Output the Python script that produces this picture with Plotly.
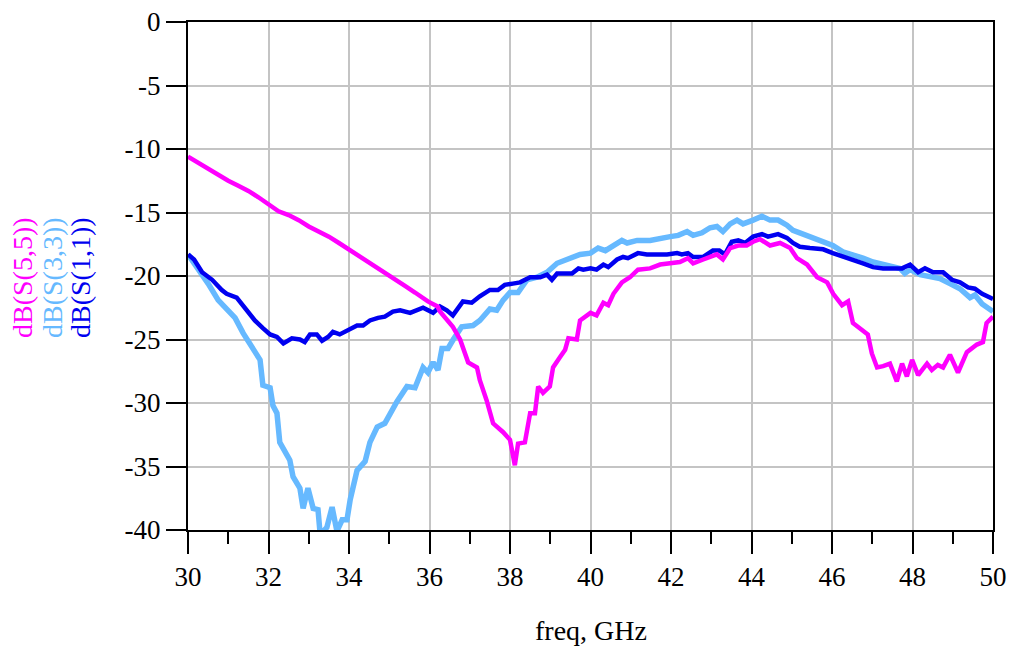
import plotly.graph_objects as go

# ---- data ----
f55 = [30.0, 30.25, 30.5, 30.75, 31.0, 31.25, 31.5, 31.75, 32.0, 32.25, 32.5, 32.75, 33.0, 33.25, 33.5, 33.75,
       34.0, 34.25, 34.5, 34.75, 35.0, 35.14, 35.4, 35.64, 35.96, 36.2, 36.26, 36.58, 36.76, 36.96, 37.18, 37.25,
       37.42, 37.58, 37.83, 38.0, 38.12, 38.2, 38.37, 38.5, 38.62, 38.7, 38.82, 38.99, 39.07, 39.24, 39.37, 39.45,
       39.66, 39.74, 39.91, 40.0, 40.15, 40.32, 40.44, 40.57, 40.78, 40.98, 41.18, 41.48, 41.73, 42.02, 42.22,
       42.42, 42.55, 42.8, 43.14, 43.29, 43.47, 43.67, 43.88, 44.04, 44.21, 44.46, 44.71, 44.96, 45.13, 45.38,
       45.63, 45.88, 46.03, 46.25, 46.4, 46.52, 46.7, 46.89, 46.99, 47.12, 47.27, 47.44, 47.61, 47.74, 47.86,
       47.99, 48.14, 48.36, 48.48, 48.63, 48.76, 48.93, 49.13, 49.35, 49.6, 49.75, 49.84, 50.0]
s55 = [-10.6, -11.1, -11.6, -12.1, -12.5, -12.9, -13.3, -13.8, -14.3, -14.9, -15.2, -15.6, -16.1, -16.5, -16.9, -17.4,
       -17.9, -18.5, -19.0, -19.4, -19.9, -20.2, -20.8, -21.3, -22.0, -22.4, -22.8, -24.0, -25.0, -26.8, -27.2, -28.2,
       -29.8, -31.6, -32.3, -32.9, -34.9, -33.2, -33.1, -30.8, -30.8, -28.7, -29.2, -28.7, -27.2, -26.4, -25.8, -24.9,
       -25.0, -23.5, -23.1, -22.9, -23.1, -22.1, -22.3, -21.4, -20.5, -20.1, -19.5, -19.4, -19.1, -19.0, -18.9,
       -18.6, -19.0, -18.7, -18.3, -18.7, -17.8, -17.6, -17.6, -17.3, -17.1, -17.6, -17.4, -17.8, -18.6, -19.1,
       -20.1, -20.5, -21.4, -22.3, -22.0, -23.7, -24.1, -24.6, -26.1, -27.2, -27.1, -26.9, -28.3, -26.9, -27.9,
       -26.6, -27.8, -26.9, -27.4, -27.0, -27.2, -26.2, -27.6, -26.0, -25.4, -25.2, -23.7, -23.2]

f33 = [30.0, 30.25, 30.5, 30.75, 30.92, 31.17, 31.37, 31.59, 31.79, 31.86, 32.04, 32.11, 32.21, 32.28, 32.41, 32.53,
       32.61, 32.78, 32.86, 32.98, 33.11, 33.23, 33.28, 33.36, 33.45, 33.58, 33.7, 33.83, 33.95, 34.03, 34.2, 34.4,
       34.52, 34.7, 34.89, 35.02, 35.19, 35.44, 35.64, 35.84, 35.96, 36.09, 36.21, 36.31, 36.46, 36.59, 36.8, 37.08,
       37.25, 37.5, 37.67, 37.83, 38.0, 38.2, 38.42, 38.67, 38.92, 39.17, 39.41, 39.74, 40.0, 40.19, 40.37, 40.57,
       40.78, 40.91, 41.16, 41.48, 41.73, 41.98, 42.18, 42.4, 42.55, 42.77, 42.97, 43.14, 43.29, 43.47, 43.64,
       43.79, 44.04, 44.26, 44.46, 44.66, 44.88, 45.03, 45.2, 45.45, 45.78, 46.02, 46.27, 46.52, 46.77, 47.02,
       47.27, 47.52, 47.69, 47.81, 47.94, 48.19, 48.44, 48.68, 48.93, 49.18, 49.43, 49.55, 49.73, 50.0]
s33 = [-18.3, -19.4, -20.6, -21.9, -22.5, -23.3, -24.5, -25.6, -26.6, -28.6, -28.8, -30.2, -30.8, -33.1, -33.9, -34.5,
       -35.8, -36.7, -38.3, -36.7, -38.3, -38.4, -40.2, -40.1, -39.8, -38.2, -40.1, -39.2, -39.2, -37.6, -35.3, -34.6,
       -33.1, -31.9, -31.6, -30.8, -29.9, -28.7, -28.8, -27.2, -27.6, -26.8, -27.4, -25.7, -25.7, -25.0, -24.0, -23.9,
       -23.5, -22.6, -22.7, -21.9, -21.3, -21.3, -20.3, -20.1, -19.7, -19.0, -18.7, -18.3, -18.2, -17.8, -18.0, -17.6,
       -17.2, -17.4, -17.2, -17.2, -17.1, -16.9, -16.8, -16.5, -16.8, -16.6, -16.2, -16.1, -16.5, -15.9, -15.6,
       -15.9, -15.6, -15.3, -15.6, -15.6, -16.0, -16.4, -16.6, -16.9, -17.3, -17.6, -18.1, -18.3, -18.6, -18.9,
       -19.1, -19.3, -19.4, -19.8, -19.5, -19.9, -20.1, -20.2, -20.6, -21.0, -21.7, -21.5, -22.2, -22.8]

f11 = [30.0, 30.15, 30.35, 30.6, 30.84, 30.96, 31.21, 31.42, 31.66, 31.86, 32.04, 32.21, 32.37, 32.58, 32.78, 32.9,
       33.03, 33.2, 33.33, 33.48, 33.6, 33.77, 33.97, 34.2, 34.35, 34.52, 34.72, 34.89, 35.09, 35.27, 35.52, 35.84,
       36.09, 36.26, 36.43, 36.58, 36.83, 37.05, 37.25, 37.5, 37.7, 37.87, 38.07, 38.25, 38.5, 38.75, 38.92, 39.04,
       39.17, 39.54, 39.7, 39.82, 40.0, 40.15, 40.32, 40.44, 40.66, 40.81, 40.93, 41.18, 41.4, 41.65, 41.9, 42.15,
       42.27, 42.42, 42.55, 42.8, 43.04, 43.2, 43.34, 43.51, 43.67, 43.84, 44.04, 44.26, 44.41, 44.66, 44.88, 45.03,
       45.2, 45.45, 45.78, 46.02, 46.32, 46.52, 46.77, 47.02, 47.27, 47.52, 47.74, 47.94, 48.14, 48.31, 48.51, 48.76,
       48.98, 49.18, 49.38, 49.55, 49.73, 50.0]
s11 = [-18.3, -18.7, -19.7, -20.3, -21.1, -21.4, -21.7, -22.5, -23.5, -24.1, -24.6, -24.8, -25.3, -24.9, -25.0, -25.2,
       -24.6, -24.6, -25.1, -24.8, -24.4, -24.6, -24.3, -23.9, -23.9, -23.5, -23.3, -23.2, -22.8, -22.7, -22.9, -22.5,
       -22.9, -22.4, -22.7, -23.1, -22.0, -22.1, -21.6, -21.1, -21.1, -20.7, -20.6, -20.5, -20.1, -20.1, -19.9, -20.3,
       -19.8, -19.8, -19.4, -19.5, -19.4, -19.5, -19.1, -19.3, -18.7, -18.5, -18.6, -18.2, -18.3, -18.3, -18.3, -18.2,
       -18.3, -18.2, -18.5, -18.5, -18.0, -18.0, -18.3, -17.3, -17.2, -17.4, -16.9, -16.7, -16.9, -16.7, -17.0, -17.4,
       -17.7, -17.8, -17.9, -18.2, -18.5, -18.7, -19.0, -19.3, -19.4, -19.4, -19.4, -19.1, -19.7, -19.4, -19.7, -19.7,
       -20.3, -20.5, -20.9, -21.0, -21.4, -21.8]

x_ticks = [30, 32, 34, 36, 38, 40, 42, 44, 46, 48, 50]
y_ticks = [0, -5, -10, -15, -20, -25, -30, -35, -40]

titles = ["dB(S(5,5))", "dB(S(3,3))", "dB(S(1,1))"]
c55, c33, c11 = "#ff00ff", "#66b9ff", "#0000f0"

FONT = "Liberation Serif"

fig = go.Figure()
fig.add_trace(go.Scatter(x=f33, y=s33, mode="lines", line=dict(color=c33, width=5.5), name=titles[1]))
fig.add_trace(go.Scatter(x=f11, y=s11, mode="lines", line=dict(color=c11, width=4.5), name=titles[2]))
fig.add_trace(go.Scatter(x=f55, y=s55, mode="lines", line=dict(color=c55, width=4.5), name=titles[0]))

fig.update_layout(
    width=1014, height=646,
    margin=dict(l=188, r=21, t=22, b=116),
    paper_bgcolor="white", plot_bgcolor="white",
    showlegend=False,
    font=dict(family=FONT, size=27, color="black"),
)
fig.update_xaxes(
    range=[30, 50], tickvals=x_ticks, ticktext=[str(v) for v in x_ticks],
    showgrid=True, gridcolor="#c4c4c4", gridwidth=2,
    showline=True, linecolor="black", linewidth=2, mirror=True,
    ticks="outside", ticklen=22, tickwidth=2, tickcolor="black",
    minor=dict(dtick=1, tick0=30, ticks="outside", ticklen=12, tickwidth=2, tickcolor="black", showgrid=False),
    zeroline=False, tickfont=dict(family=FONT, size=27), automargin=False,
)
fig.update_yaxes(
    range=[-40, 0], tickvals=y_ticks, ticktext=[str(v) for v in y_ticks],
    showgrid=True, gridcolor="#c4c4c4", gridwidth=2,
    showline=True, linecolor="black", linewidth=2, mirror=True,
    ticks="outside", ticklen=20, tickwidth=2, tickcolor="black",
    zeroline=False, tickfont=dict(family=FONT, size=27), automargin=False,
)

colors = [c55, c33, c11]
xpos_px = [22, 52, 80]
for t, c, px in zip(titles, colors, xpos_px):
    fig.add_annotation(
        text=t, textangle=-90, font=dict(family=FONT, size=28, color=c),
        xref="paper", yref="paper", x=(px - 188) / 805, y=(530 - 278) / 508,
        xanchor="center", yanchor="middle", showarrow=False,
    )
fig.add_annotation(
    text="freq, GHz", font=dict(family=FONT, size=28, color="black"),
    xref="paper", yref="paper", x=(591 - 188) / 805, y=(530 - 630) / 508,
    xanchor="center", yanchor="middle", showarrow=False,
)

fig.write_html("out.html")
